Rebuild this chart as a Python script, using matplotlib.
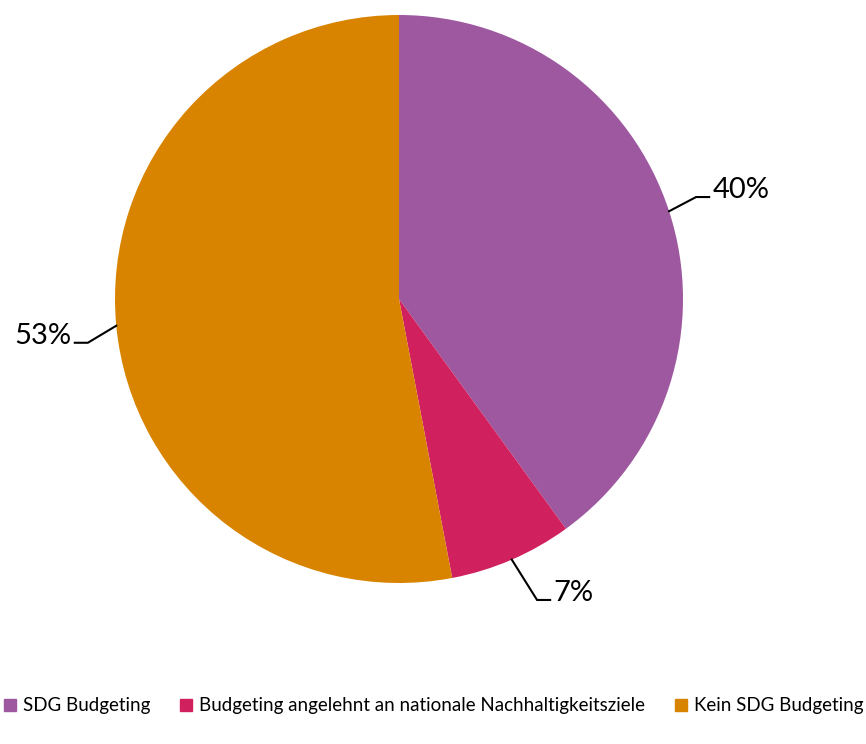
import numpy as np
import matplotlib
matplotlib.use("Agg")
import matplotlib.pyplot as plt
from matplotlib.lines import Line2D

plt.rcParams['font.family'] = ['Lato', 'DejaVu Sans']

# data
categories = ["SDG Budgeting",
              "Budgeting angelehnt an nationale Nachhaltigkeitsziele",
              "Kein SDG Budgeting"]
shares = [40, 7, 53]
pct_labels = ["40%", "7%", "53%"]
colors = ["#9D589F", "#D0205E", "#D98400"]

W, H = 866, 744
fig = plt.figure(figsize=(W / 100, H / 100), dpi=100)

# pie centre (399, 299) px, radius 284 px
cx, cy, r = 399, 299, 284
ax = fig.add_axes([(cx - r) / W, (H - cy - r) / H, 2 * r / W, 2 * r / H])
wedges, _ = ax.pie(shares, colors=colors, startangle=90, counterclock=False,
                   radius=1, wedgeprops=dict(linewidth=0))
ax.set_xlim(-1, 1)
ax.set_ylim(-1, 1)
ax.set_aspect('equal')
ax.axis('off')

# leader lines: elbow offset from edge, then short horizontal tail
elbows = [(0.095, 0.05), (0.089, -0.142), (-0.10, -0.06)]
tail = 0.046
for w, lab, (dx, dy) in zip(wedges, pct_labels, elbows):
    ang = np.deg2rad((w.theta1 + w.theta2) / 2)
    x0, y0 = np.cos(ang), np.sin(ang)
    x1, y1 = x0 + dx, y0 + dy
    side = 1 if dx > 0 else -1
    x2 = x1 + side * tail
    ax.plot([x0, x1, x2], [y0, y1, y1], color='black', lw=1.5,
            clip_on=False, solid_joinstyle='miter')
    ax.text(x2 + side * 0.012, y1 + 0.025, lab, fontsize=21,
            ha='left' if side > 0 else 'right', va='center', clip_on=False)

handles = [Line2D([0], [0], marker='s', linestyle='none', markersize=8,
                  markerfacecolor=c, markeredgecolor=c) for c in colors]
fig.legend(handles, categories, loc='center', bbox_to_anchor=(0.5, 1 - 706 / H),
           ncol=3, frameon=False, fontsize=13.5, handletextpad=0.3,
           columnspacing=1.5, handlelength=0.8, borderaxespad=0)

fig.savefig("out.png", dpi=100)
